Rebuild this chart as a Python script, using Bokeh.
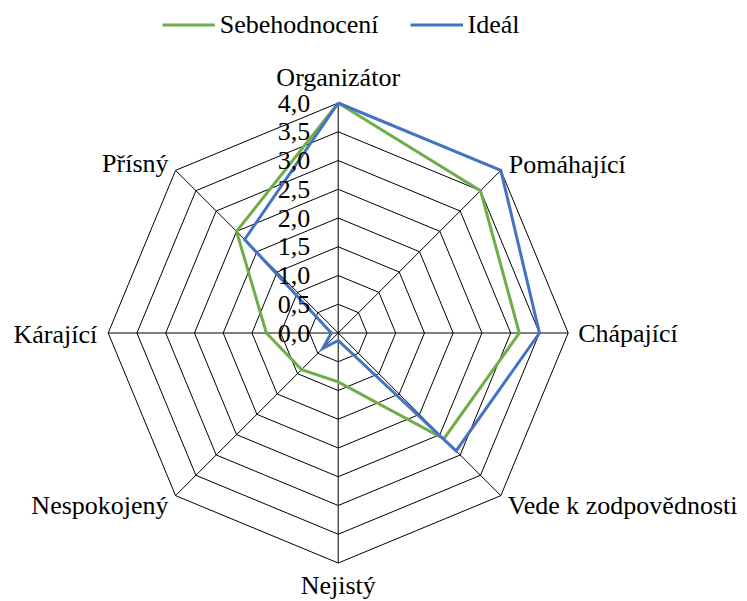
import numpy as np
from bokeh.plotting import figure
from bokeh.models import Range1d, Legend, LegendItem, ColumnDataSource
from bokeh.core.properties import value
from bokeh.embed import file_html
from bokeh.resources import INLINE

# ---- data ----
categories = ["Organizátor", "Pomáhající", "Chápající", "Vede k zodpovědnosti",
              "Nejistý", "Nespokojený", "Kárající", "Přísný"]
sebehodnoceni = [4.0, 3.5, 3.15, 2.6, 0.85, 0.9, 1.25, 2.5]
ideal = [4.0, 4.0, 3.5, 2.9, 0.13, 0.38, 0.12, 2.3]
tick_values = [0.0, 0.5, 1.0, 1.5, 2.0, 2.5, 3.0, 3.5, 4.0]
tick_labels = ["0,0", "0,5", "1,0", "1,5", "2,0", "2,5", "3,0", "3,5", "4,0"]
series_names = ["Sebehodnocení", "Ideál"]

# ---- layout / style ----
W, H = 747, 601
CX, CY = 337.7, 332.5          # centre in figure pixels (from top-left)
RPX = 230.0                    # pixels for the max value
VMAX = 4.0
S = RPX / VMAX                 # pixels per unit
FONT = "Liberation Serif"
FS = "26px"
GREEN = "#70AD47"
BLUE = "#4472C4"

# label offsets (screen px) and alignment per category
lab_dx = [0, 8, 10, 7, 0, -7, -11, -7]
lab_dy = [-26, -6, 0, 10, 22, 10, 1, -7]
lab_align = ["center", "left", "left", "left", "center", "right", "right", "right"]

n = len(categories)
ang = np.pi / 2 - np.arange(n) * 2 * np.pi / n
cosa, sina = np.cos(ang), np.sin(ang)

p = figure(width=W, height=H, output_backend="svg", toolbar_location=None,
           x_axis_type=None, y_axis_type=None, min_border=0,
           x_range=Range1d(-CX / S, (W - CX) / S),
           y_range=Range1d(-(H - CY) / S, CY / S))
p.grid.visible = False
p.outline_line_color = None
p.background_fill_color = "white"

# octagon rings
ring_xs, ring_ys = [], []
for v in tick_values[1:]:
    ring_xs.append(list(np.append(v * cosa, v * cosa[0])))
    ring_ys.append(list(np.append(v * sina, v * sina[0])))
p.multi_line(ring_xs, ring_ys, line_color="black", line_width=1)

# spokes
spoke_xs = [[0, VMAX * c] for c in cosa]
spoke_ys = [[0, VMAX * s_] for s_ in sina]
p.multi_line(spoke_xs, spoke_ys, line_color="black", line_width=1)

def closed(vals):
    v = np.array(vals)
    xs = v * cosa
    ys = v * sina
    return list(np.append(xs, xs[0])), list(np.append(ys, ys[0]))

gx, gy = closed(sebehodnoceni)
bx, by = closed(ideal)
rg = p.line(gx, gy, line_color=GREEN, line_width=3, line_join="miter")
rb = p.line(bx, by, line_color=BLUE, line_width=3, line_join="miter")

# tick labels on vertical axis
p.text(x=[0] * len(tick_values), y=tick_values, text=tick_labels,
       x_offset=-28, text_align="right", text_baseline="middle",
       text_font=value(FONT), text_font_size=FS, text_color="black")

# category labels
src = ColumnDataSource(dict(x=list(VMAX * cosa), y=list(VMAX * sina), text=categories,
                            dx=lab_dx, dy=lab_dy, align=lab_align))
p.text(x="x", y="y", text="text", x_offset="dx", y_offset="dy", text_align="align",
       text_baseline="middle", source=src,
       text_font=value(FONT), text_font_size=FS, text_color="black")

legend = Legend(items=[LegendItem(label=series_names[0], renderers=[rg]),
                       LegendItem(label=series_names[1], renderers=[rb])],
                orientation="horizontal", location=(161.7, H - 41),
                glyph_width=53, glyph_height=33, label_height=33,
                label_standoff=5, spacing=31, padding=0, margin=0,
                border_line_color=None, background_fill_alpha=0)
legend.label_text_font = "Times New Roman"
legend.label_text_font_size = FS
legend.label_text_color = "black"
p.add_layout(legend)

open("out.html", "w").write(file_html(p, INLINE))
